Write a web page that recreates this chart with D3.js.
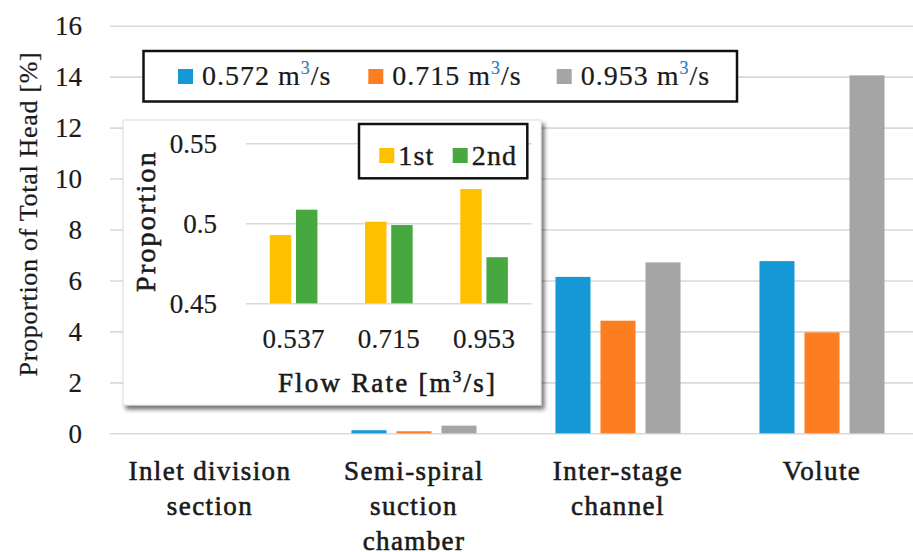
<!DOCTYPE html>
<html>
<head>
<meta charset="utf-8">
<script src="https://cdn.jsdelivr.net/npm/d3@7"></script>
<style>
  html, body { margin: 0; padding: 0; background: #fff; }
  svg { display: block; font-family: "Liberation Serif", "DejaVu Serif", serif; }
  svg text { font-family: "Liberation Serif", "DejaVu Serif", serif; }
</style>
</head>
<body>
<svg id="chart" width="913" height="552"></svg>
<script>
// Head share of each flow passage, per flow rate
const categories = [
  ["Inlet division", "section"],
  ["Semi-spiral", "suction", "chamber"],
  ["Inter-stage", "channel"],
  ["Volute"]
];
const seriesLabels = ["0.572", "0.715", "0.953"];
const seriesColors = ["#1798d6", "#fd7e21", "#a5a5a5"];
const flow0572 = [0, 0.12, 6.14, 6.76];
const flow0715 = [0, 0.08, 4.42, 3.96];
const flow0953 = [0, 0.30, 6.71, 14.05];
const yTicks = [0, 2, 4, 6, 8, 10, 12, 14, 16];

// Inset: 1st / 2nd stage head proportion
const insetFlows = ["0.537", "0.715", "0.953"];
const stageLabels = ["1st", "2nd"];
const stageColors = ["#ffc000", "#46a83e"];
const stage1st = [0.4927, 0.501, 0.5214];
const stage2nd = [0.5085, 0.4989, 0.4788];
const insetTicks = [0.45, 0.5, 0.55];

const svg = d3.select("#chart");
const W = 913;
const ink = "#1a1a1a";

// ---------- main chart ----------
const plotLeft = 110, plotTop = 25.7, plotBottom = 433.3;
const y = d3.scaleLinear().domain([0, 16]).range([plotBottom, plotTop]);
const x0 = d3.scaleBand().domain(d3.range(categories.length))
  .range([108, 924]).paddingInner(0.387).paddingOuter(0.1935);
const x1 = d3.scaleBand().domain(d3.range(3))
  .range([0, x0.bandwidth()]).paddingInner(0.222);

const yAxis = svg.append("g")
  .attr("transform", `translate(${plotLeft},0)`)
  .call(d3.axisLeft(y).tickValues(yTicks).tickSize(-(W - plotLeft)).tickPadding(28).tickFormat(d3.format("d")));
yAxis.select(".domain").remove();
yAxis.attr("font-family", null);
yAxis.selectAll(".tick line").attr("stroke", "#d9d9d9").attr("stroke-width", 1.6);
yAxis.selectAll(".tick text")
  .attr("font-size", 27).attr("fill", ink)
  .attr("stroke", ink).attr("stroke-width", 0.2)
  .attr("dy", "0.34em");

const series = [flow0572, flow0715, flow0953];
const groups = svg.append("g").selectAll("g")
  .data(categories.map((c, i) => i))
  .join("g")
  .attr("transform", i => `translate(${x0(i)},0)`);
groups.selectAll("rect")
  .data(i => series.map((s, k) => ({ k, v: s[i] })))
  .join("rect")
  .attr("x", d => x1(d.k))
  .attr("width", x1.bandwidth())
  .attr("y", d => y(d.v))
  .attr("height", d => y(0) - y(d.v))
  .attr("fill", d => seriesColors[d.k]);

// category labels
const catText = svg.append("g").selectAll("text")
  .data(categories)
  .join("text")
  .attr("x", (d, i) => x0(i) + x0.bandwidth() / 2)
  .attr("y", 479.5)
  .attr("text-anchor", "middle")
  .attr("font-size", 27)
  .attr("letter-spacing", 1.4)
  .attr("fill", ink)
  .attr("stroke", ink).attr("stroke-width", 0.6);
catText.selectAll("tspan")
  .data(d => d)
  .join("tspan")
  .attr("x", function () { return this.parentNode.getAttribute("x"); })
  .attr("dy", (d, j) => j === 0 ? 0 : 35)
  .text(d => d);

// y-axis title
svg.append("text")
  .attr("transform", "translate(37,214) rotate(-90)")
  .attr("text-anchor", "middle")
  .attr("font-size", 26)
  .attr("letter-spacing", 0.7)
  .attr("fill", ink).attr("stroke", ink).attr("stroke-width", 0.25)
  .text("Proportion of Total Head [%]");

// main legend
const leg = svg.append("g");
leg.append("rect")
  .attr("x", 143.5).attr("y", 51).attr("width", 593.5).attr("height", 50.5)
  .attr("fill", "#fff").attr("stroke", "#111").attr("stroke-width", 2.5);
const legX = [178, 368.3, 556.7];
seriesLabels.forEach((lab, k) => {
  leg.append("rect")
    .attr("x", legX[k]).attr("y", 69).attr("width", 15).attr("height", 15)
    .attr("fill", seriesColors[k]);
  const t = leg.append("text")
    .attr("x", legX[k] + 24).attr("y", 84.5)
    .attr("font-size", 28).attr("letter-spacing", 1.0).attr("fill", ink)
    .attr("stroke", ink).attr("stroke-width", 0.2);
  t.append("tspan").text(lab + " m");
  t.append("tspan").attr("dy", -11).attr("font-size", 18)
    .attr("fill", "#2a7fc0").attr("stroke", "#2a7fc0").text("3");
  t.append("tspan").attr("dy", 11).text("/s");
});

// ---------- inset chart ----------
const defs = svg.append("defs");
const f = defs.append("filter").attr("id", "shadow")
  .attr("x", "-5%").attr("y", "-5%").attr("width", "115%").attr("height", "115%");
f.append("feDropShadow").attr("dx", 3).attr("dy", 4).attr("stdDeviation", 2.2)
  .attr("flood-color", "#000").attr("flood-opacity", 0.55);

const inset = svg.append("g");
inset.append("rect")
  .attr("x", 123).attr("y", 120).attr("width", 418).attr("height", 285)
  .attr("fill", "#fff").attr("stroke", "#dcdcdc").attr("stroke-width", 1)
  .attr("filter", "url(#shadow)");

const iLeft = 246, iRight = 531.7;
const iy = d3.scaleLinear().domain([0.45, 0.55]).range([303.3, 143.3]);
const ix0 = d3.scaleBand().domain(insetFlows).range([iLeft, iRight]).paddingInner(0.5).paddingOuter(0.25);
const ix1 = d3.scaleBand().domain(d3.range(2)).range([0, ix0.bandwidth()]).paddingInner(0.18);

const iyAxis = inset.append("g")
  .attr("transform", `translate(${iLeft},0)`)
  .call(d3.axisLeft(iy).tickValues(insetTicks).tickSize(-(iRight - iLeft)).tickPadding(29).tickFormat(d => String(d)));
iyAxis.select(".domain").remove();
iyAxis.attr("font-family", null);
iyAxis.selectAll(".tick line").attr("stroke", "#d9d9d9").attr("stroke-width", 1.6);
iyAxis.selectAll(".tick text")
  .attr("font-size", 27).attr("fill", ink)
  .attr("stroke", ink).attr("stroke-width", 0.2)
  .attr("dy", "0.34em");

const stages = [stage1st, stage2nd];
inset.append("g").selectAll("g")
  .data(insetFlows.map((fl, i) => ({ fl, i })))
  .join("g")
  .attr("transform", d => `translate(${ix0(d.fl)},0)`)
  .selectAll("rect")
  .data(d => stages.map((s, k) => ({ k, v: s[d.i] })))
  .join("rect")
  .attr("x", d => ix1(d.k))
  .attr("width", ix1.bandwidth())
  .attr("y", d => iy(d.v))
  .attr("height", d => iy(0.45) - iy(d.v))
  .attr("fill", d => stageColors[d.k]);

// inset x tick labels
inset.append("g").selectAll("text")
  .data(insetFlows)
  .join("text")
  .attr("x", d => ix0(d) + ix0.bandwidth() / 2)
  .attr("y", 348)
  .attr("text-anchor", "middle")
  .attr("font-size", 27).attr("letter-spacing", 0.3).attr("fill", ink)
  .attr("stroke", ink).attr("stroke-width", 0.2)
  .text(d => d);

// inset axis titles
inset.append("text")
  .attr("transform", "translate(155,221) rotate(-90)")
  .attr("text-anchor", "middle")
  .attr("font-size", 28).attr("letter-spacing", 2.2)
  .attr("fill", ink).attr("stroke", ink).attr("stroke-width", 0.6)
  .text("Proportion");

const ft = inset.append("text")
  .attr("x", 387.5).attr("y", 392)
  .attr("text-anchor", "middle")
  .attr("font-size", 27).attr("letter-spacing", 2.2)
  .attr("fill", ink).attr("stroke", ink).attr("stroke-width", 0.6);
ft.append("tspan").text("Flow Rate [m");
ft.append("tspan").attr("dy", -10).attr("font-size", 17).text("3");
ft.append("tspan").attr("dy", 10).text("/s]");

// inset legend
inset.append("rect")
  .attr("x", 359).attr("y", 124).attr("width", 168.3).attr("height", 54.3)
  .attr("fill", "#fff").attr("stroke", "#111").attr("stroke-width", 2.5);
const iLegX = [379.3, 452.7];
stageLabels.forEach((lab, k) => {
  inset.append("rect")
    .attr("x", iLegX[k]).attr("y", 148).attr("width", 15).attr("height", 15)
    .attr("fill", stageColors[k]);
  inset.append("text")
    .attr("x", iLegX[k] + 19).attr("y", 164.5)
    .attr("font-size", 28).attr("letter-spacing", 1.2).attr("fill", ink)
    .attr("stroke", ink).attr("stroke-width", 0.4)
    .text(lab);
});
</script>
</body>
</html>
